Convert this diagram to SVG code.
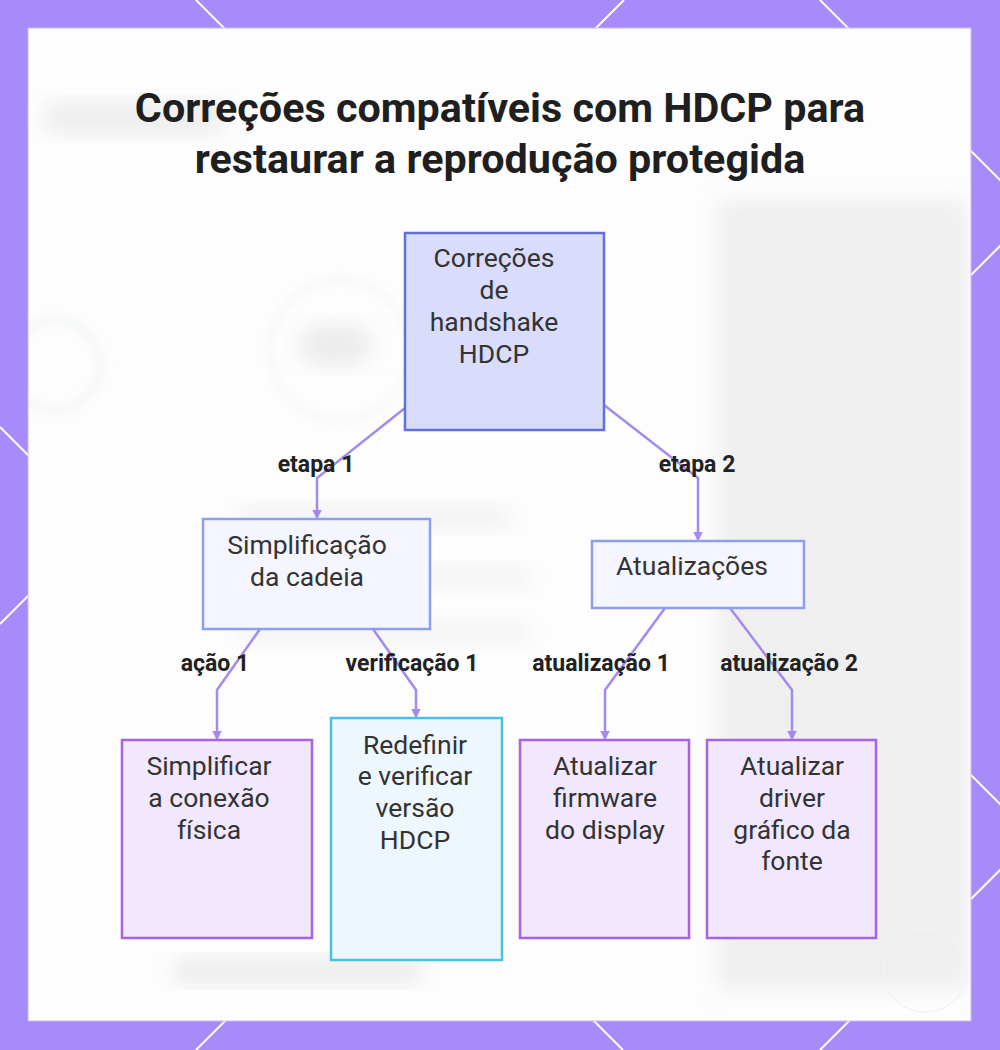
<svg xmlns="http://www.w3.org/2000/svg" width="1000" height="1050" viewBox="0 0 1000 1050">
  <defs>
    <style>
      .title { font-family: Roboto, "Liberation Sans", sans-serif; font-weight: 700; font-size: 41.3px; fill: #1f1f1f; text-anchor: middle; }
      .ntext { font-family: Roboto, "Liberation Sans", sans-serif; font-size: 26.5px; fill: #333333; text-anchor: middle; }
      .elabel { font-family: Roboto, "Liberation Sans", sans-serif; font-weight: 700; font-size: 23px; fill: #222222; text-anchor: middle; }
      .edge { fill: none; stroke: #a48aee; stroke-width: 2.5; marker-end: url(#arrow); }
      .lattice { stroke: #ffffff; stroke-width: 2; fill: none; }
      .root { fill: #d9dcfb; stroke: #6271d3; stroke-width: 2.5; }
      .mid { fill: #f4f5fe; stroke: #8d9ef1; stroke-width: 2.5; }
      .leaf { fill: #f1e8fd; stroke: #a862e2; stroke-width: 2.5; }
      .check { fill: #eef7fe; stroke: #4cbfe4; stroke-width: 2.5; }
    </style>
    <marker id="arrow" viewBox="0 0 8 8" refX="6" refY="4" markerWidth="4" markerHeight="4" orient="auto">
      <path d="M0,0 L8,4 L0,8 z" fill="#a48aee"/>
    </marker>
    <filter id="blur" x="-20%" y="-20%" width="140%" height="140%">
      <feGaussianBlur stdDeviation="10"/>
    </filter>
    <filter id="blur2" x="-20%" y="-20%" width="140%" height="140%">
      <feGaussianBlur stdDeviation="4"/>
    </filter>
    <clipPath id="panelClip">
      <rect x="29" y="29" width="941" height="991"/>
    </clipPath>
  </defs>

  <!-- frame -->
  <rect x="0" y="0" width="1000" height="1050" fill="#a78bfa"/>
  <g class="lattice">
    <line x1="196" y1="0" x2="1246" y2="1050"/>
    <line x1="820" y1="0" x2="1870" y2="1050"/>
    <line x1="0" y1="427" x2="623" y2="1050"/>
    <line x1="624" y1="0" x2="0" y2="624"/>
    <line x1="1246" y1="0" x2="196" y2="1050"/>
    <line x1="1870" y1="0" x2="820" y2="1050"/>
  </g>

  <!-- panel -->
  <rect x="28" y="28" width="943" height="993" fill="#fdfdfd" stroke="#c9b8f7" stroke-width="1"/>
  <g id="backdrop" clip-path="url(#panelClip)">
    <rect x="718" y="200" width="250" height="790" fill="#efefef" filter="url(#blur)"/>
    <rect x="45" y="100" width="180" height="35" rx="12" fill="#e4e4e4" opacity="0.6" filter="url(#blur)"/>
    <circle cx="55" cy="365" r="45" fill="none" stroke="#f2f4f6" stroke-width="6" filter="url(#blur2)"/>
    <circle cx="340" cy="350" r="70" fill="none" stroke="#f4f4f4" stroke-width="4" filter="url(#blur2)"/>
    <ellipse cx="335" cy="345" rx="38" ry="22" fill="#ececec" filter="url(#blur)"/>
    <rect x="240" y="505" width="270" height="25" fill="#f3f3f3" filter="url(#blur)"/>
    <rect x="240" y="565" width="290" height="25" fill="#f4f4f4" filter="url(#blur)"/>
    <rect x="240" y="620" width="290" height="25" fill="#f4f4f4" filter="url(#blur)"/>
    <rect x="175" y="958" width="245" height="26" fill="#ececec" filter="url(#blur)"/>
    <circle cx="925" cy="970" r="42" fill="none" stroke="#f3f3f3" stroke-width="1.5"/>
  </g>

  <!-- title -->
  <g id="title">
    <text class="title" x="500" y="122">Correções compatíveis com HDCP para</text>
    <text class="title" x="500" y="173">restaurar a reprodução protegida</text>
  </g>

  <!-- connectors -->
  <g id="connectors">
    <polyline class="edge" points="405,408 317,478 317,517"/>
    <polyline class="edge" points="604,405 698,478 698,539"/>
    <polyline class="edge" points="260,629 217,690 217,738"/>
    <polyline class="edge" points="373,629 416,690 416,716"/>
    <polyline class="edge" points="665,608 605,690 605,738"/>
    <polyline class="edge" points="730,608 792,690 792,738"/>
  </g>

  <g id="edge-labels">
    <text class="elabel" x="316" y="472">etapa 1</text>
    <text class="elabel" x="697" y="472">etapa 2</text>
    <text class="elabel" x="215" y="671">ação 1</text>
    <text class="elabel" x="412" y="671">verificação 1</text>
    <text class="elabel" x="601" y="671">atualização 1</text>
    <text class="elabel" x="789" y="671">atualização 2</text>
  </g>

  <!-- nodes -->
  <g id="node-root">
    <rect class="root" x="405" y="233" width="199" height="197"/>
    <text class="ntext" x="494" y="267">Correções</text>
    <text class="ntext" x="494" y="299">de</text>
    <text class="ntext" x="494" y="331">handshake</text>
    <text class="ntext" x="494" y="363">HDCP</text>
  </g>
  <g id="node-simplificacao">
    <rect class="mid" x="203" y="519" width="227" height="110"/>
    <text class="ntext" x="307" y="554">Simplificação</text>
    <text class="ntext" x="307" y="586">da cadeia</text>
  </g>
  <g id="node-atualizacoes">
    <rect class="mid" x="592" y="541" width="212" height="67"/>
    <text class="ntext" x="692" y="575">Atualizações</text>
  </g>
  <g id="node-simplificar">
    <rect class="leaf" x="122" y="740" width="190" height="198"/>
    <text class="ntext" x="209" y="775">Simplificar</text>
    <text class="ntext" x="209" y="807">a conexão</text>
    <text class="ntext" x="209" y="839">física</text>
  </g>
  <g id="node-redefinir">
    <rect class="check" x="331" y="718" width="171" height="242"/>
    <text class="ntext" x="415" y="754">Redefinir</text>
    <text class="ntext" x="415" y="785">e verificar</text>
    <text class="ntext" x="415" y="817">versão</text>
    <text class="ntext" x="415" y="849">HDCP</text>
  </g>
  <g id="node-firmware">
    <rect class="leaf" x="520" y="740" width="169" height="198"/>
    <text class="ntext" x="605" y="775">Atualizar</text>
    <text class="ntext" x="605" y="807">firmware</text>
    <text class="ntext" x="605" y="839">do display</text>
  </g>
  <g id="node-driver">
    <rect class="leaf" x="707" y="740" width="169" height="198"/>
    <text class="ntext" x="792" y="775">Atualizar</text>
    <text class="ntext" x="792" y="807">driver</text>
    <text class="ntext" x="792" y="839">gráfico da</text>
    <text class="ntext" x="792" y="870">fonte</text>
  </g>
</svg>
